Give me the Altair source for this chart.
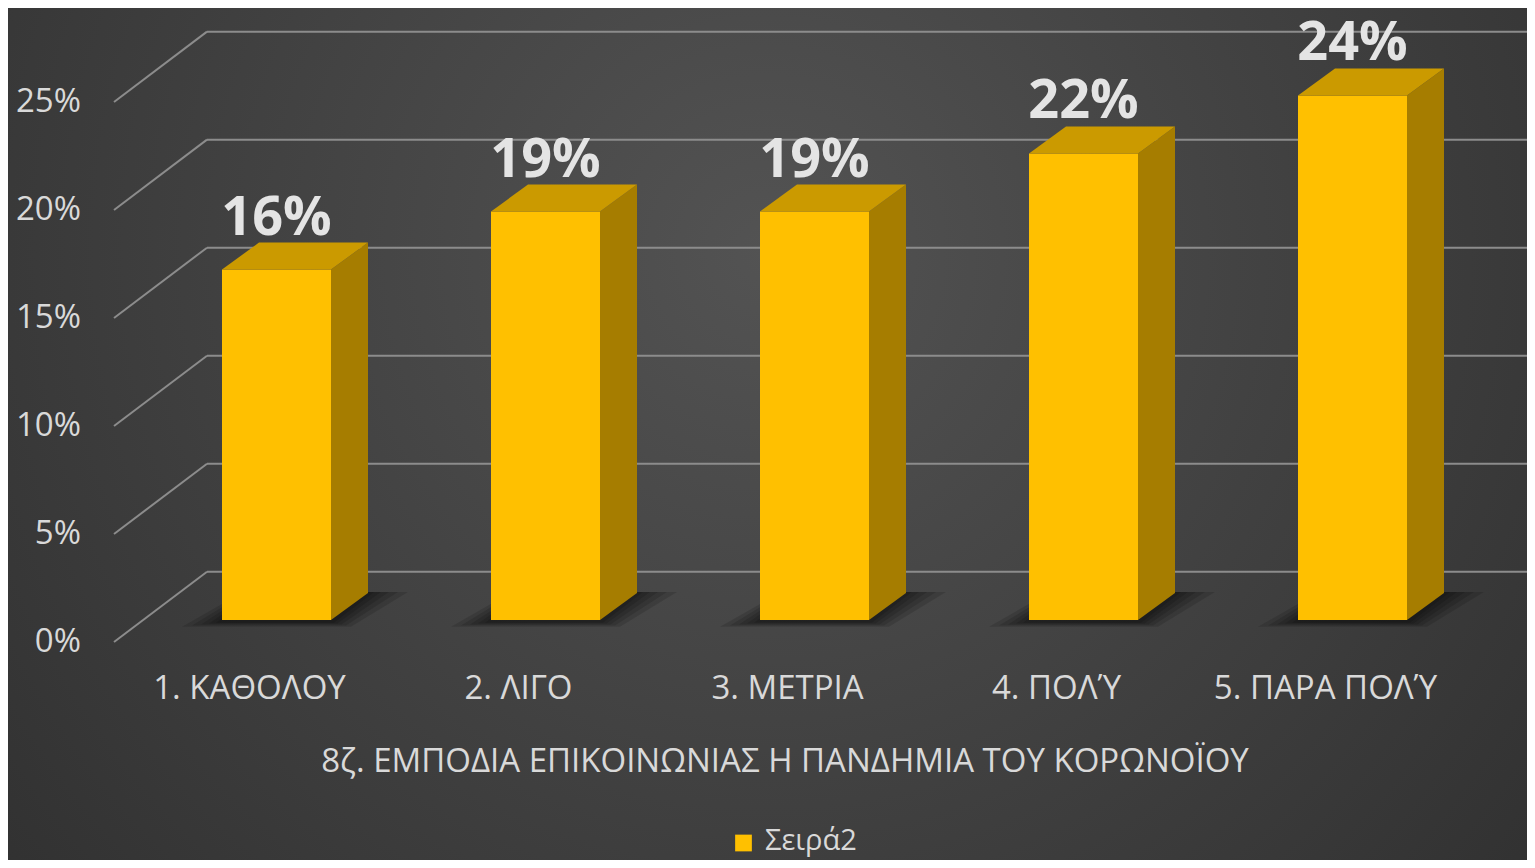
import altair as alt
import pandas as pd

# ---------------- data ----------------
categories = ["1. ΚΑΘΟΛΟΥ", "2. ΛΙΓΟ", "3. ΜΕΤΡΙΑ", "4. ΠΟΛΎ", "5. ΠΑΡΑ ΠΟΛΎ"]
values = [16.3, 19.0, 19.0, 21.7, 24.4]          # percent
tick_values = [0, 5, 10, 15, 20, 25]
tick_labels = ["0%", "5%", "10%", "15%", "20%", "25%"]
axis_title = "8ζ. ΕΜΠΟΔΙΑ ΕΠΙΚΟΙΝΩΝΙΑΣ Η ΠΑΝΔΗΜΙΑ ΤΟΥ ΚΟΡΩΝΟΪΟΥ"
series_name = "Σειρά2"

# ---------------- geometry (scale set-up) ----------------
W, H = 1519, 852
Y0, PY = 612.0, 21.5          # view px of 0 % on front plane, px per %
X0, PX = 268.5, 269.0         # view px of category 0, px per category
xs = alt.Scale(domain=[-X0 / PX, (W - X0) / PX], nice=False, zero=False)
ys = alt.Scale(domain=[(Y0 - H) / PY, Y0 / PY], nice=False, zero=False)

HW = 54.5 / PX                # half bar width
DDX, DDY = 37 / PX, 27 / PY   # bar depth offset
BS = 1.0047                   # wall scale factor
BACK_DY = 2.247               # back wall offset (in %)
FRONT_DY = -1.023             # left wall front edge offset (in %)
BACK_X = (199 - X0) / PX
FRONT_X = (106 - X0) / PX
LABEL_X = (73 - X0) / PX

FONT = "Open Sans"
TXT = "#d9d9d9"
GOLD = "#FFC000"

idx = list(range(len(categories)))
bars = pd.DataFrame({"i": idx, "cat": categories, "v": values})
bars["xl"] = bars.i - HW
bars["xr"] = bars.i + HW
bars["zero"] = 0.0
bars["label"] = [f"{round(v)}%" for v in values]
bars["ltop"] = bars.v + DDY
bars["lx"] = bars.i - 27 / PX

grid = pd.DataFrame({"g": tick_values, "t": tick_labels})
grid["by"] = BACK_DY + BS * grid.g
grid["fy"] = FRONT_DY + BS * grid.g
grid["bx"] = BACK_X
grid["fx"] = FRONT_X
grid["rx"] = xs.domain[1]
grid["lx"] = LABEL_X

one = pd.DataFrame({"a": [0]})

X = lambda f: alt.X(f, type="quantitative", scale=xs, axis=None, stack=None)
Y = lambda f: alt.Y(f, type="quantitative", scale=ys, axis=None, stack=None)

# ---------------- layers ----------------
bg = alt.Chart(one).mark_rect(
    fill=alt.RadialGradient(
        gradient="radial", x1=0.5, y1=0.38, x2=0.5, y2=0.38, r1=0, r2=0.75,
        stops=[alt.GradientStop(offset=0, color="#535353"),
               alt.GradientStop(offset=1, color="#2c2c2c")]),
).encode(x=alt.value(0), x2=alt.value(W), y=alt.value(0), y2=alt.value(H))

grid_back = alt.Chart(grid).mark_rule(color="#8c8c8c", strokeWidth=2).encode(
    x=X("bx"), x2="rx", y=Y("by"), y2="by")
grid_left = alt.Chart(grid).mark_rule(color="#8c8c8c", strokeWidth=2).encode(
    x=X("fx"), x2="bx", y=Y("fy"), y2="by")
ylab = alt.Chart(grid).mark_text(align="right", baseline="middle", font=FONT,
                                 fontSize=33, color=TXT).encode(
    x=X("lx"), y=Y("fy"), text="t:N")

shadow_layers, side_layers, top_layers = [], [], []
for k in idx:
    xl, xr, v = bars.xl[k], bars.xr[k], bars.v[k]
    # soft floor shadow: stacked translucent quads of decreasing size
    for e in [40, 30, 21, 13, 6]:
        sh = pd.DataFrame({
            "y": [DDY + 0.05, -(2 + e * 0.12) / PY],
            "x": [xl + DDX - e * 0.4 / PX, xl - e / PX],
            "x2": [xr + DDX + e / PX, xr + e * 0.5 / PX],
        })
        shadow_layers.append(
            alt.Chart(sh).mark_area(orient="horizontal", color="#000000", opacity=0.13).encode(
                y=Y("y"), x=X("x"), x2="x2"))
    sd = pd.DataFrame({"x": [xr, xr + DDX], "y": [0.0, DDY], "y2": [v, v + DDY]})
    side_layers.append(
        alt.Chart(sd).mark_area(orient="vertical", color="#A67D00").encode(
            x=X("x"), y=Y("y"), y2="y2"))
    tp = pd.DataFrame({"y": [v, v + DDY], "x": [xl, xl + DDX], "x2": [xr, xr + DDX]})
    top_layers.append(
        alt.Chart(tp).mark_area(orient="horizontal", color="#CB9A00").encode(
            y=Y("y"), x=X("x"), x2="x2"))

front = alt.Chart(bars).mark_rect(color=GOLD).encode(
    x=X("xl"), x2="xr", y=Y("zero"), y2="v")

vlab = alt.Chart(bars).mark_text(align="center", baseline="alphabetic", dy=-8, font=FONT,
                                 fontSize=54, fontWeight="bold", color="#e4e4e4").encode(
    x=X("i"), y=Y("ltop"), text="label:N")

clab = alt.Chart(bars).mark_text(align="center", baseline="middle", font=FONT,
                                 fontSize=33, color=TXT).encode(
    x=X("lx"), y=alt.value(681), text="cat:N")

title = alt.Chart(pd.DataFrame({"t": [axis_title]})).mark_text(
    align="center", baseline="middle", font=FONT, fontSize=33, color=TXT).encode(
    x=alt.value(777), y=alt.value(754), text="t:N")

leg_sq = alt.Chart(pd.DataFrame({"s": [series_name]})).mark_square(
    color=GOLD, opacity=1, size=280).encode(x=alt.value(735.5), y=alt.value(835))
leg_tx = alt.Chart(pd.DataFrame({"s": [series_name]})).mark_text(
    align="left", baseline="middle", font=FONT, fontSize=29, color=TXT).encode(
    x=alt.value(757), y=alt.value(833), text="s:N")

chart = alt.layer(
    bg, grid_back, grid_left, ylab, *shadow_layers, front, *side_layers, *top_layers,
    vlab, clab, title, leg_sq, leg_tx
).properties(
    width=W, height=H, padding=0, autosize=alt.AutoSizeParams(type="none")
).configure_view(stroke=None).configure(background="#333333")

chart.save("out.html", embed_options={"renderer": "svg", "actions": False})
